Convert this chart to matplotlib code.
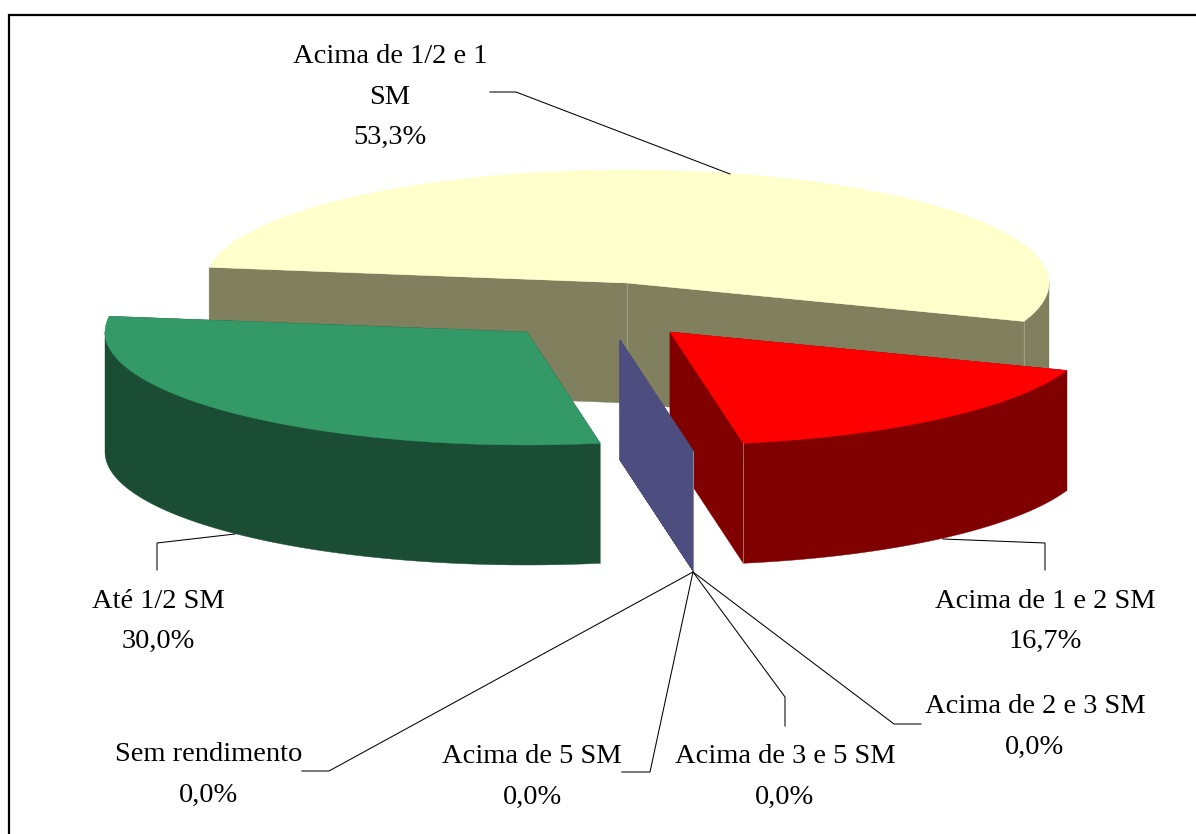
import numpy as np
import matplotlib
matplotlib.use("Agg")
import matplotlib.pyplot as plt
from matplotlib.patches import Polygon

# pie data, in drawing order round the pie (clockwise)
categories = ["Acima de 1/2 e 1\nSM", "Acima de 1 e 2 SM", "Acima de 2 e 3 SM", "Acima de 3 e 5 SM",
              "Acima de 5 SM", "Sem rendimento", "Até 1/2 SM"]
values = [53.3, 16.7, 0.0, 0.0, 0.0, 0.0, 30.0]

top_colors = ["#FFFFCC", "#FF0000", "#666699", "#666699", "#666699", "#666699", "#339966"]
side_colors = ["#80805F", "#800000", "#4D4D80", "#4D4D80", "#4D4D80", "#4D4D80", "#1A4D33"]
# explosion offset of each slice, pixels
offsets = [(0, 0), (43, 49), (-7, 57), (-7, 57), (-7, 57), (-7, 57), (-100, 49)]

label_pos = [(390, 97), (1045, 621.5), (1035, 727), (785, 777), (532, 777), (209, 775), (158, 621.5)]
leaders = [
    [(490, 92), (516, 92), (730, 174)],
    [(943, 539), (1045, 543), (1045, 570)],
    [(693, 572), (894, 724), (921, 724)],
    [(693, 572), (785, 697), (785, 726)],
    [(693, 572), (650, 772), (622, 772)],
    [(693, 572), (329, 771), (302, 771)],
    [(235, 534), (157, 543), (157, 570)],
]

CX, CY = 627, 283
RX, RY = 422, 113
DEPTH = 120
START = 172.0

fig = plt.figure(figsize=(11.96, 8.34), dpi=100)
ax = fig.add_axes([0, 0, 1, 1])
ax.set_xlim(0, 1196)
ax.set_ylim(834, 0)
ax.axis("off")


def rim(cx, cy, a0, a1, n=120):
    t = np.radians(np.linspace(a0, a1, n))
    return np.column_stack([cx + RX * np.cos(t), cy - RY * np.sin(t)])


def wall(p, q):
    return [p, q, (q[0], q[1] + DEPTH), (p[0], p[1] + DEPTH)]


def add_poly(pts, color, z):
    ax.add_patch(Polygon(pts, closed=True, facecolor=color, edgecolor=color, linewidth=0.3, zorder=z))


def seam(p, color, z):
    ax.plot([p[0], p[0]], [p[1], p[1] + DEPTH], color=color, lw=0.6, alpha=0.7, zorder=z)


# angles of every slice, going clockwise from START
ends = START - np.cumsum(values) * 3.6
starts = np.r_[START, ends[:-1]]

for i in range(len(values)):
    a0, a1 = starts[i], ends[i]
    cx, cy = CX + offsets[i][0], CY + offsets[i][1]
    apex = (cx, cy)
    edge = rim(cx, cy, a0, a1)
    z = i + 1
    add_poly(wall(apex, edge[0]), side_colors[i], z)
    add_poly(wall(apex, edge[-1]), side_colors[i], z)
    # outer wall only where the rim faces the viewer (front half)
    lo, hi = max(a1, -180), min(a0, 0)
    if hi > lo:
        front = rim(cx, cy, hi, lo)
        add_poly(np.vstack([front, front[::-1] + [0, DEPTH]]), side_colors[i], z)
    if values[i] > 0:
        add_poly(np.vstack([[apex], edge]), top_colors[i], z)
    if np.sin(np.radians(a1)) < 0:
        seam(edge[-1], "#C0B0A0", z)
    if np.sin(np.radians(a0)) < 0 and values[i] > 0:
        seam(edge[0], "#C0C0A8", z)
    if i == 0:
        seam(apex, "#B0B098", z)

for pts in leaders:
    xs, ys = zip(*pts)
    ax.plot(xs, ys, color="black", lw=0.75, solid_joinstyle="miter", zorder=10)

for name, v, pos in zip(categories, values, label_pos):
    txt = name + "\n" + f"{v:.1f}".replace(".", ",") + "%"
    ax.text(pos[0], pos[1], txt, ha="center", va="center", family="Liberation Serif",
            fontsize=20.5, color="black", linespacing=1.83, zorder=11)

# chart frame: only left and top lie inside the image
ax.plot([9, 9, 1196], [834, 15, 15], color="black", lw=1.6, solid_joinstyle="miter", zorder=12)

fig.savefig("out.png", dpi=100)
